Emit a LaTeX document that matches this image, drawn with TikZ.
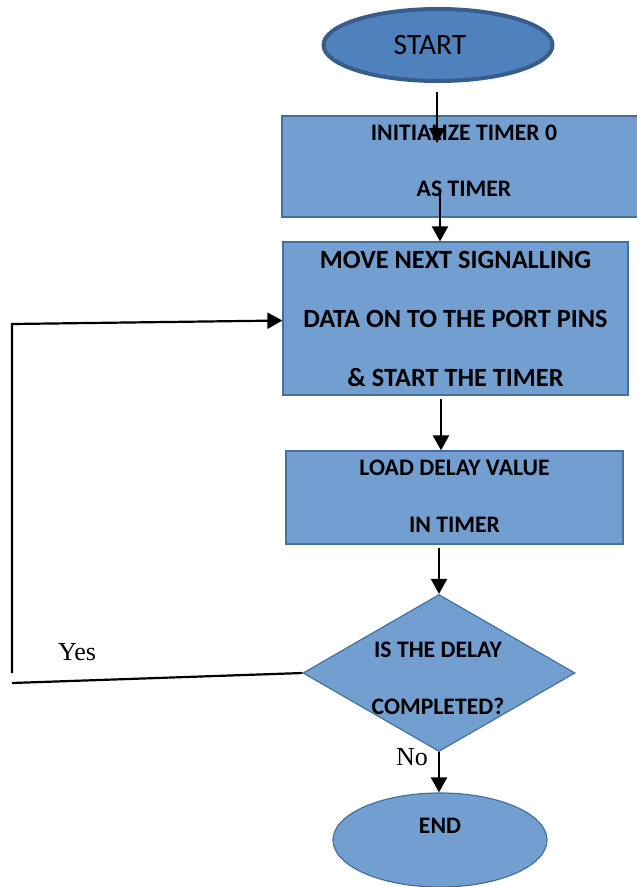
\documentclass[tikz,border=0pt]{standalone}
\usepackage{fontspec}
\setmainfont{Carlito}
\newfontfamily\labelfont{Liberation Serif}
\usetikzlibrary{shapes.geometric,arrows.meta}
\definecolor{boxfill}{RGB}{114,159,207}
\definecolor{boxline}{RGB}{65,113,156}
\definecolor{startfill}{RGB}{79,129,189}
\definecolor{startline}{RGB}{56,93,138}
\begin{document}
\begin{tikzpicture}[x=1pt,y=-1pt,
  flowbox/.style={rectangle,draw=boxline,fill=boxfill,line width=1.2pt,inner sep=0pt},
  decision/.style={diamond,draw=boxline,fill=boxfill,line width=1.2pt,inner sep=0pt},
  terminal/.style={ellipse,draw=boxline,fill=boxfill,line width=1.2pt,inner sep=0pt},
  startterm/.style={ellipse,draw=startline,fill=startfill,line width=4pt,inner sep=0pt},
  boxtext/.style={font=\bfseries\fontsize{23.7}{56}\selectfont,align=center,inner sep=0pt},
  bigtext/.style={font=\bfseries\fontsize{26.3}{59}\selectfont,align=center,inner sep=0pt},
  labeltext/.style={font=\labelfont\fontsize{26}{26}\selectfont,inner sep=0pt},
  conn/.style={line width=2.2pt,-{Triangle[width=16pt,length=15pt]}},
  plainline/.style={line width=2.2pt}]
\useasboundingbox (0,0) rectangle (637,887);

% shapes
\node[startterm,minimum width=229pt,minimum height=72pt] (start) at (438,45) {};
\node[font=\fontsize{29.5}{29.5}\selectfont,inner sep=0pt] (starttext) at (430,45) {START};

\node[flowbox,minimum width=356.5pt,minimum height=101pt] (b1) at (460.25,166.5) {};
\node[boxtext] (t1) at (464,160.5) {INITIALIZE TIMER 0\\AS TIMER};

\node[flowbox,minimum width=345pt,minimum height=153pt] (b2) at (455.5,318.5) {};
\node[bigtext] (t2) at (455.5,319) {MOVE NEXT SIGNALLING\\DATA ON TO THE PORT PINS\\\&~START THE TIMER};

\node[flowbox,minimum width=337pt,minimum height=93pt] (b3) at (454.5,497.5) {};
\node[boxtext,font=\bfseries\fontsize{23.7}{57}\selectfont] (t3) at (454.5,496.5) {LOAD DELAY VALUE\\IN TIMER};

\node[decision,minimum width=272pt,minimum height=157pt] (dec) at (439,673) {};
\node[boxtext,font=\bfseries\fontsize{23.7}{57}\selectfont] (t4) at (438,678.5) {IS THE DELAY\\COMPLETED?};

\node[terminal,minimum width=214pt,minimum height=94pt] (endn) at (440,840) {};
\node[boxtext] (t5) at (440,826) {END};

% labels
\node[labeltext] (yes) at (77,652) {Yes};
\node[labeltext] (no) at (412,757) {No};

% connectors
\coordinate (a1s) at (437,92);
\coordinate (a1e) at (437,143);
\draw[conn] (a1s) -- (a1e);
\coordinate (a2s) at (440,190);
\draw[conn] (a2s) -- (a2s |- b2.north);
\coordinate (a3) at (441,0);
\draw[conn] ([yshift=-3pt]a3 |- b2.south) -- (a3 |- b3.north);
\draw[conn] ([yshift=-3pt]b3.south -| dec.north) -- (dec.north);
\draw[conn] (dec.south) -- (dec.south |- endn.north);

\coordinate (ltop) at (12,324);
\coordinate (lbot) at (12,673);
\coordinate (lfoot) at (12,683);
\draw[plainline] (lfoot) -- (dec.west);
\draw[conn] (lbot) -- (ltop) -- ([yshift=-2pt]b2.west);
\end{tikzpicture}
\end{document}
